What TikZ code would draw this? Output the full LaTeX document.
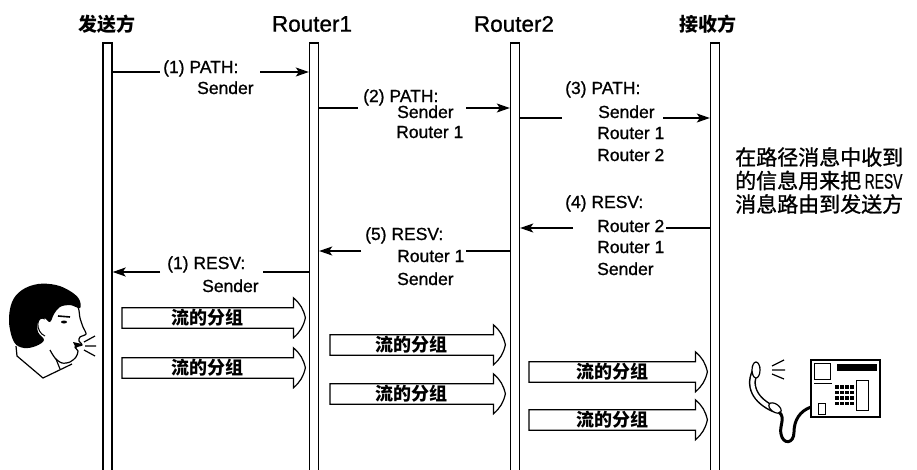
\documentclass[tikz,border=0pt]{standalone}
\usepackage{fontspec}
\usepackage{graphicx}
\setmainfont{Liberation Sans}
\newfontfamily\medsans{Liberation Sans}[FakeBold=0.9]
\newfontfamily\cjk{Noto Sans CJK SC}
\newfontfamily\cjkmed{Noto Sans CJK SC}[FakeBold=1.2]
\usetikzlibrary{arrows.meta}

% block arrow carrying a packet label: name, body left x, centre y, body right x
\newcommand\pktarrow[4]{%
  \node[pkt, minimum width=#4-#2, anchor=west] (#1) at (#2,#3) {流的分组};
  \draw[line width=1.2pt, line join=miter]
    (#1.north west) -- (#1.north east) -- ++(0,-10)
    to[bend left=18] ++(12,20) to[bend left=18] ++(-12,20)
    -- (#1.south east) -- (#1.south west) -- cycle;
}

\begin{document}
\begin{tikzpicture}[x=1pt,y=-1pt,
  lifeline/.style={draw, line width=1.4pt, fill=white, minimum width=9pt,
    minimum height=432pt, inner sep=0pt},
  title/.style={font=\fontsize{22.5}{24}\selectfont\medsans},
  cjktitle/.style={font=\fontsize{19}{21}\selectfont\cjk\bfseries},
  msg/.style={anchor=base west, inner sep=0pt, font=\fontsize{17.5}{21}\selectfont\medsans},
  msgline/.style={line width=1.2pt},
  msgarrow/.style={line width=1.2pt, -{Stealth[length=13pt,width=9pt,inset=3pt]}},
  pkt/.style={minimum height=20pt, inner sep=0pt,
    font=\fontsize{18}{20}\selectfont\cjk\bfseries},
  ]
\useasboundingbox (0,0) rectangle (917,469);

% lifelines
\node[lifeline] (s)  at (107.5,259) {};
\node[lifeline] (r1) at (314,259) {};
\node[lifeline] (r2) at (515,259) {};
\node[lifeline] (rx) at (715,259) {};

% headings
\node[cjktitle] (ts) at (106.5,24) {发送方};
\node[title]    (t1) at (312,24) {Router1};
\node[title]    (t2) at (514,24) {Router2};
\node[cjktitle] (tx) at (708,24) {接收方};

% (1) PATH
\node[msg] (m1a) at (163,73) {(1) PATH:};
\node[msg] (m1b) at (197,94) {Sender};
\coordinate (m1l) at (160,72);
\coordinate (m1r) at (260,72);
\draw[msgline] (s.east |- m1l) -- (m1l);
\draw[msgarrow] (m1r) -- (r1.west |- m1r);

% (2) PATH
\node[msg] (m2a) at (363,102) {(2) PATH:};
\node[msg] (m2b) at (397,118) {Sender};
\node[msg] (m2c) at (396,138) {Router 1};
\coordinate (m2l) at (358,108);
\coordinate (m2r) at (466,108);
\draw[msgline] (r1.east |- m2l) -- (m2l);
\draw[msgarrow] (m2r) -- (r2.west |- m2r);

% (3) PATH
\node[msg] (m3a) at (565,94) {(3) PATH:};
\node[msg] (m3b) at (598,118) {Sender};
\node[msg] (m3c) at (597,139) {Router 1};
\node[msg] (m3d) at (597,161) {Router 2};
\coordinate (m3l) at (562,118);
\coordinate (m3r) at (663,118);
\draw[msgline] (r2.east |- m3l) -- (m3l);
\draw[msgarrow] (m3r) -- (rx.west |- m3r);

% (4) RESV
\node[msg] (m4a) at (565,208) {(4) RESV:};
\node[msg] (m4b) at (597,232) {Router 2};
\node[msg] (m4c) at (597,253) {Router 1};
\node[msg] (m4d) at (597,275) {Sender};
\coordinate (m4r) at (666,228);
\coordinate (m4l) at (573,228);
\draw[msgline] (rx.west |- m4r) -- (m4r);
\draw[msgarrow] (m4l) -- (r2.east |- m4l);

% (5) RESV
\node[msg] (m5a) at (365,240) {(5) RESV:};
\node[msg] (m5b) at (397,262) {Router 1};
\node[msg] (m5c) at (397,285) {Sender};
\coordinate (m5r) at (466,251);
\coordinate (m5l) at (361,251);
\draw[msgline] (r2.west |- m5r) -- (m5r);
\draw[msgarrow] (m5l) -- (r1.east |- m5l);

% (1) RESV
\node[msg] (m6a) at (167,269) {(1) RESV:};
\node[msg] (m6b) at (202,292) {Sender};
\coordinate (m6r) at (263,272);
\coordinate (m6l) at (160,272);
\draw[msgline] (r1.west |- m6r) -- (m6r);
\draw[msgarrow] (m6l) -- (s.east |- m6l);

% note on the reverse route
\node[anchor=north west, align=left, inner sep=0pt,
      font=\fontsize{21}{23.5}\selectfont\cjkmed] (note) at (735,147)
  {在路径消息中收到\\的信息用来把\,{\medsans\fontsize{21}{22}\selectfont\scalebox{0.66}[1]{RESV}}\\消息路由到发送方};

% packet streams
\pktarrow{pa}{122}{318}{293}
\pktarrow{pb}{122}{368}{293}
\pktarrow{pc}{330}{345}{493}
\pktarrow{pd}{330}{394}{493}
\pktarrow{pe}{529}{372}{695}
\pktarrow{pf}{529}{420}{695}

% talking person
\filldraw[fill=white, line width=1.2pt] plot[smooth, tension=0.5] coordinates
  {(70,298) (78,307) (80,318) (83,327) (86,334) (80,337) (79,341) (82,345)
   (75,347) (78,351) (76,357) (70,362) (62,363) (55,358) (50,350)};
\fill[black] plot[smooth cycle, tension=0.6] coordinates
  {(14,342) (9,322) (12,302) (22,290) (38,284) (56,285) (70,291) (79,299)
   (80,308) (70,305) (60,307) (54,314) (50,322) (44,318) (38,322) (38,332)
   (44,340) (36,346) (24,348)};
\filldraw[fill=white, line width=1pt] (45,319) .. controls (36,314) and (35,332) .. (45,336);
\fill (64,322) ellipse (3 and 1.5);
\draw[line width=1.6pt] (58,316) -- (70,317);
\fill (73,342) -- (82,344) -- (76,348) -- cycle;
\draw[line width=1.2pt] (16,346) -- (17,356) -- (43,378) -- (72,364);
\draw[line width=1.2pt] (56,359) -- (60,369);
\draw[line width=1.2pt] (84,342) -- (95,336) (85,346) -- (96,346) (84,350) -- (95,356);

% telephone
\draw[line width=7pt, line cap=round] (757,368) .. controls (746,386) and (756,401) .. (774,409);
\draw[white, line width=4pt, line cap=round] (757,368) .. controls (746,386) and (756,401) .. (774,409);
\filldraw[fill=white, line width=1.2pt] (756,370) ellipse (4 and 8);
\filldraw[fill=white, line width=1.2pt, rotate around={-35:(775,408)}] (775,408) ellipse (7 and 4);
\draw[line width=3pt] (779,412) .. controls (786,418) and (779,426) .. (781,434)
  .. controls (783,445) and (794,444) .. (794,432)
  .. controls (794,420) and (800,411) .. (811,407);
\draw[line width=1.2pt] (772,366) -- (784,360) (772,370) -- (785,370) (772,374) -- (784,379);
\draw[line width=1.2pt] (811,360) rectangle (880,417);
\draw[line width=1pt] (814,363) rectangle (830,379);
\draw[line width=1pt] (814,383) -- (832,383);
\fill (837,364) rectangle (877,371);
\foreach \i in {0,...,3}
  \foreach \j in {0,...,3}
    \fill (835+\i*5,385+\j*5.5) rectangle ++(3.6,3.8);
\draw[line width=1pt] (856,380) rectangle (868,410);
\draw[line width=1pt] (818,403) rectangle (825,414);
\draw[line width=2pt] (880,372) -- (880,414);
\end{tikzpicture}
\end{document}
